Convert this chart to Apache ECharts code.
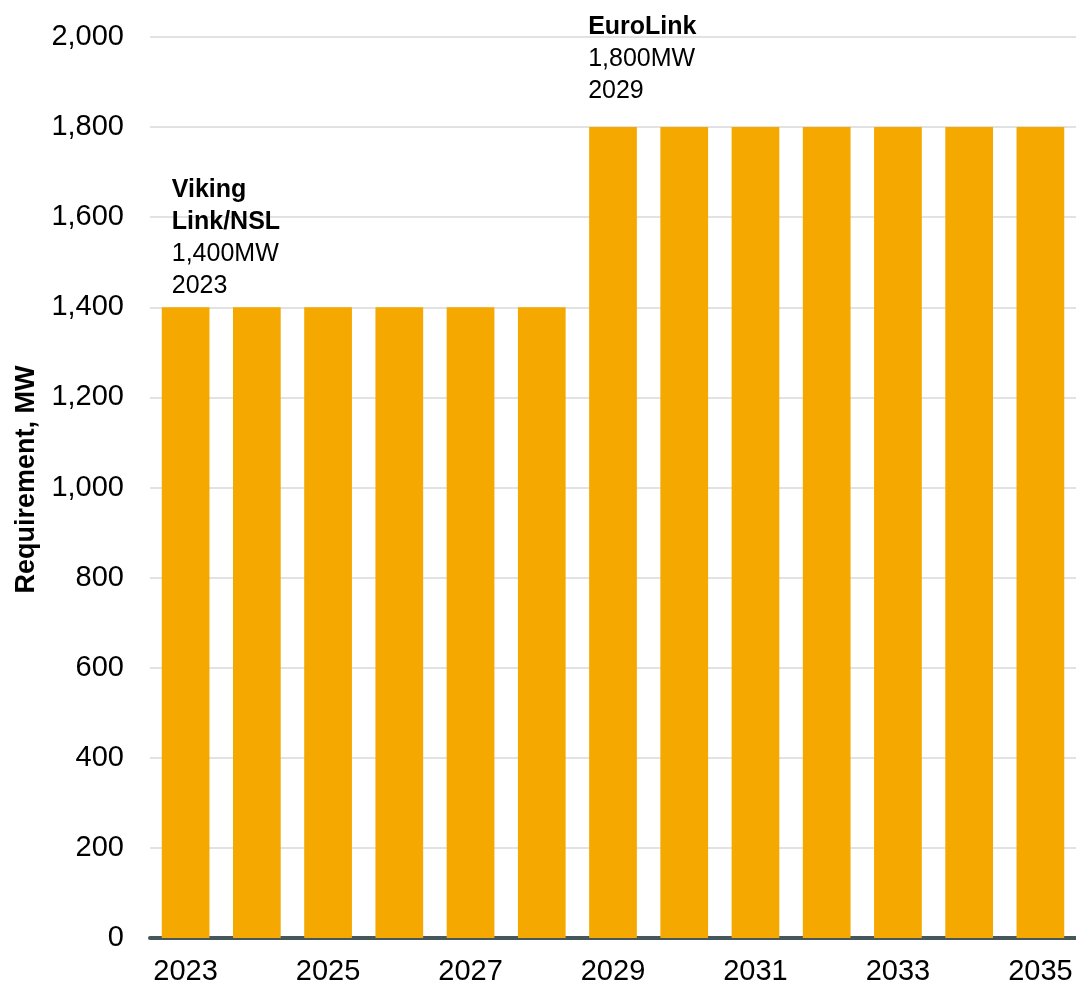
<!DOCTYPE html>
<html>
<head>
<meta charset="utf-8">
<script src="https://cdn.jsdelivr.net/npm/echarts@6/dist/echarts.min.js"></script>
<style>
  html, body { margin: 0; padding: 0; background: #fff; }
  #chart { width: 1076px; height: 984px; }
</style>
</head>
<body>
<div id="chart"></div>
<script>
  // data
  var years = ['2023', '2024', '2025', '2026', '2027', '2028', '2029', '2030', '2031', '2032', '2033', '2034', '2035']
  var requirement = [1400, 1400, 1400, 1400, 1400, 1400, 1800, 1800, 1800, 1800, 1800, 1800, 1800]
  var yTicks = [0, 200, 400, 600, 800, 1000, 1200, 1400, 1600, 1800, 2000]
  // annotations: bar index, bold name lines, plain lines
  var noteIndex = [0, 6]
  var noteNames = [['Viking', 'Link/NSL'], ['EuroLink']]
  var noteLines = [['1,400MW', '2023'], ['1,800MW', '2029']]
  var noteOffset = [[10, -5], [-1, -20]]

  var chart = echarts.init(document.getElementById('chart'))
  var font = 'Liberation Sans, Arial, sans-serif'

  var seriesData = requirement.map(function (v, i) {
    var k = noteIndex.indexOf(i)
    if (k < 0) return v
    var txt = noteNames[k].map(function (s) { return '{b|' + s + '}' })
      .concat(noteLines[k].map(function (s) { return '{n|' + s + '}' }))
      .join('\n')
    return {
      value: v,
      label: {
        show: true,
        position: noteOffset[k],
        align: 'left',
        verticalAlign: 'bottom',
        formatter: txt,
        rich: {
          b: { fontFamily: font, fontSize: 25, fontWeight: 'bold', color: '#000', lineHeight: 32 },
          n: { fontFamily: font, fontSize: 25, color: '#000', lineHeight: 32 }
        }
      }
    }
  })

  var option = {
    animation: false,
    grid: { left: 150, right: 0, top: 37, bottom: 46, containLabel: false, outerBoundsMode: 'none' },
    xAxis: {
      type: 'category',
      data: years,
      axisTick: { show: false },
      axisLine: { show: true, lineStyle: { color: '#46575b', width: 4 } },
      axisLabel: {
        interval: 1,
        margin: 19,
        fontFamily: font,
        fontSize: 29,
        color: '#000'
      }
    },
    yAxis: {
      type: 'value',
      min: yTicks[0],
      max: yTicks[yTicks.length - 1],
      interval: 200,
      name: 'Requirement, MW',
      nameLocation: 'middle',
      nameGap: 109,
      nameTextStyle: { fontFamily: font, fontSize: 27, fontWeight: 'bold', color: '#000', padding: [0, 0, 0, 16] },
      axisLine: { show: false },
      axisTick: { show: false },
      splitLine: { lineStyle: { color: '#d9d9d9', width: 1.5 } },
      axisLabel: {
        margin: 26,
        fontFamily: font,
        fontSize: 29,
        color: '#000',
        formatter: function (v) { return v.toLocaleString('en-US') }
      }
    },
    series: [{
      type: 'bar',
      data: seriesData,
      barWidth: '67%',
      itemStyle: { color: '#f5a800' },
      label: { show: false }
    }]
  }
  chart.setOption(option)
</script>
</body>
</html>
